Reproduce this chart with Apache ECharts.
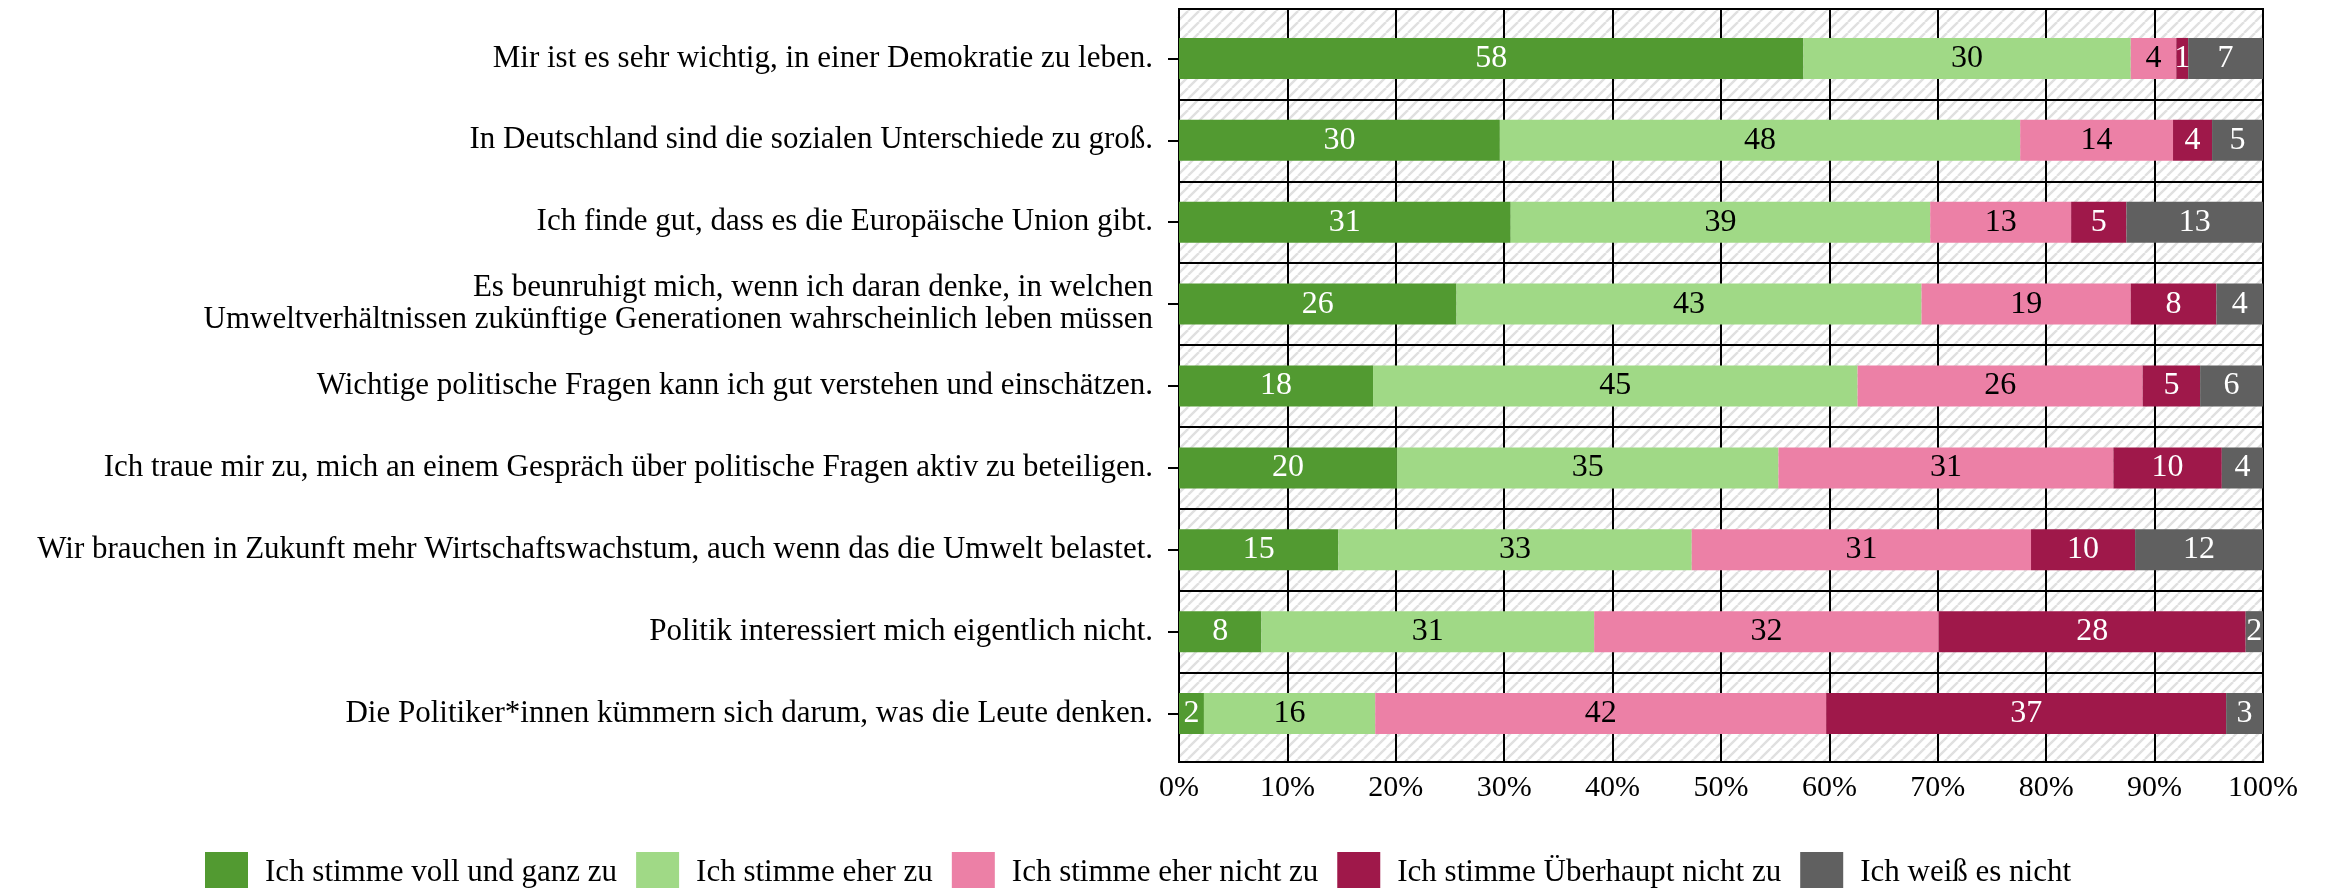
<!DOCTYPE html>
<html>
<head>
<meta charset="utf-8">
<title>Einstellungen</title>
<script src="https://cdn.jsdelivr.net/npm/echarts@6/dist/echarts.min.js"></script>
<style>
  html, body { margin: 0; padding: 0; background: #fff; }
  #main { width: 2330px; height: 888px; }
</style>
</head>
<body>
<div id="main"></div>
<script>
// Aussagen (von oben nach unten)
var statements = [
  'Mir ist es sehr wichtig, in einer Demokratie zu leben.',
  'In Deutschland sind die sozialen Unterschiede zu groß.',
  'Ich finde gut, dass es die Europäische Union gibt.',
  'Es beunruhigt mich, wenn ich daran denke, in welchen\nUmweltverhältnissen zukünftige Generationen wahrscheinlich leben müssen',
  'Wichtige politische Fragen kann ich gut verstehen und einschätzen.',
  'Ich traue mir zu, mich an einem Gespräch über politische Fragen aktiv zu beteiligen.',
  'Wir brauchen in Zukunft mehr Wirtschaftswachstum, auch wenn das die Umwelt belastet.',
  'Politik interessiert mich eigentlich nicht.',
  'Die Politiker*innen kümmern sich darum, was die Leute denken.'
]

var seriesNames = [
  'Ich stimme voll und ganz zu',
  'Ich stimme eher zu',
  'Ich stimme eher nicht zu',
  'Ich stimme Überhaupt nicht zu',
  'Ich weiß es nicht'
]

// Anteile in %, je Aussage
var vollUndGanz = [57.6, 29.6, 30.6, 25.6, 17.9, 20.1, 14.7, 7.6, 2.3]
var eher = [30.2, 48.0, 38.7, 42.9, 44.7, 35.2, 32.6, 30.7, 15.8]
var eherNicht = [4.2, 14.1, 13.0, 19.3, 26.3, 30.9, 31.3, 31.8, 41.6]
var ueberhauptNicht = [1.1, 3.6, 5.1, 7.9, 5.3, 10.0, 9.6, 28.3, 36.9]
var weissNicht = [6.9, 4.7, 12.6, 4.3, 5.8, 3.8, 11.8, 1.6, 3.4]

var xTicks = [0, 10, 20, 30, 40, 50, 60, 70, 80, 90, 100]

var colors = ['#529a31', '#a0d986', '#ec80a6', '#9f184a', '#606060']
var labelColors = ['#fff', '#000', '#000', '#fff', '#fff']
var font = 'Liberation Serif'

// schraffierter Hintergrund
function hatch() {
  var s = 11
  var c = document.createElement('canvas')
  c.width = s
  c.height = s
  var ctx = c.getContext('2d')
  ctx.fillStyle = '#fff'
  ctx.fillRect(0, 0, s, s)
  ctx.strokeStyle = '#e0e0e0'
  ctx.lineWidth = 2.4
  ;[-s, 0, s].forEach(function(o) {
    ctx.beginPath()
    ctx.moveTo(o, s)
    ctx.lineTo(o + s, 0)
    ctx.stroke()
  })
  return c
}

var data = [vollUndGanz, eher, eherNicht, ueberhauptNicht, weissNicht]

var myChart = echarts.init(document.getElementById('main'))
myChart.setOption({
  animation: false,
  textStyle: { fontFamily: font },
  legend: {
    left: 200,
    top: 847,
    itemWidth: 43,
    itemHeight: 41,
    itemGap: 19,
    icon: 'rect',
    data: seriesNames,
    textStyle: {
      fontFamily: font,
      fontSize: 31,
      color: '#000',
      padding: [0, 0, 0, 12]
    }
  },
  grid: [{
    left: 1179,
    right: 67,
    top: 9,
    bottom: 126,
    show: true,
    backgroundColor: { image: hatch(), repeat: 'repeat' },
    borderColor: '#000',
    borderWidth: 2
  }, {
    left: 1179,
    right: 67,
    top: 17.5,
    bottom: 133.5
  }],
  xAxis: [{
    gridIndex: 0,
    type: 'value',
    min: xTicks[0],
    max: xTicks[xTicks.length - 1],
    interval: xTicks[1] - xTicks[0],
    axisLine: { show: true, lineStyle: { color: '#000', width: 2 } },
    axisTick: { show: false },
    splitLine: { show: true, lineStyle: { color: '#000', width: 2 } },
    axisLabel: {
      formatter: '{value}%',
      fontFamily: font,
      fontSize: 30,
      color: '#000',
      margin: 11
    }
  }, {
    gridIndex: 1,
    type: 'value',
    min: 0,
    max: 100,
    show: false
  }],
  yAxis: [{
    gridIndex: 0,
    type: 'value',
    show: false
  }, {
    gridIndex: 1,
    type: 'category',
    inverse: true,
    data: statements,
    axisLine: { show: true, lineStyle: { color: '#000', width: 2 } },
    axisTick: { show: true, alignWithLabel: true, length: 11, lineStyle: { color: '#000', width: 2 } },
    splitLine: {
      show: true,
      showMinLine: false,
      showMaxLine: false,
      lineStyle: { color: '#000', width: 2 }
    },
    axisLabel: {
      fontFamily: font,
      fontSize: 31,
      lineHeight: 32,
      color: '#000',
      margin: 26,
      align: 'right'
    }
  }],
  series: seriesNames.map(function(name, i) {
    return {
      name: name,
      type: 'bar',
      stack: 'total',
      xAxisIndex: 1,
      yAxisIndex: 1,
      barWidth: 41,
      itemStyle: { color: colors[i] },
      label: {
        show: true,
        position: 'inside',
        fontFamily: font,
        fontSize: 32,
        color: labelColors[i],
        formatter: function(p) {
          return Math.round(p.value)
        }
      },
      data: data[i]
    }
  })
})
</script>
</body>
</html>
